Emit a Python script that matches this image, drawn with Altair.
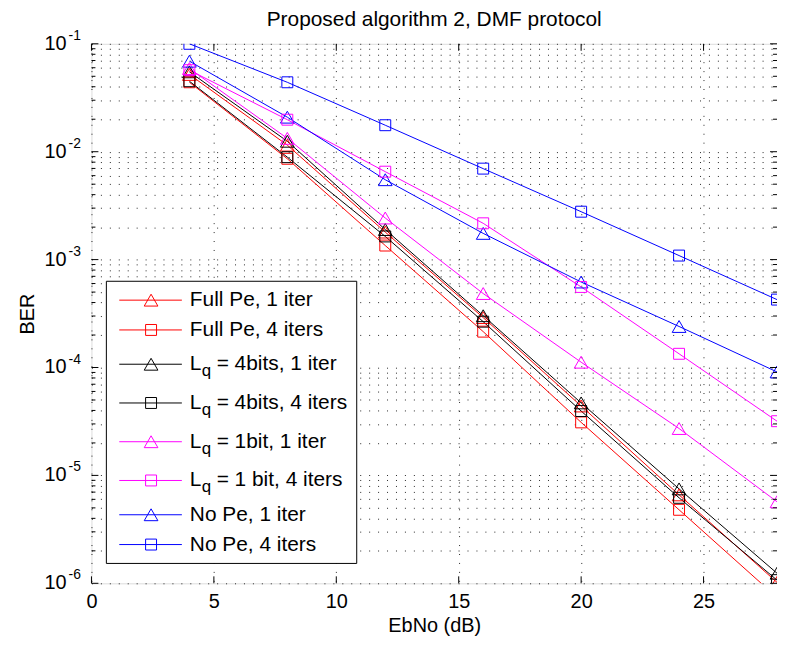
import altair as alt
import pandas as pd

# ---------------- data ----------------
ebno = [4, 8, 12, 16, 20, 24, 28]

series_keys = ["s0", "s1", "s2", "s3", "s4", "s5", "s6", "s7"]
series_colors = ["#ff0000", "#ff0000", "#000000", "#000000",
                 "#ff00ff", "#ff00ff", "#0000ff", "#0000ff"]
series_markers = ["triangle-up", "square", "triangle-up", "square",
                  "triangle-up", "square", "triangle-up", "square"]

ber_full_pe_1 = [0.052, 0.0115, 0.0018, 0.00029, 4.4e-5, 6.6e-6, 1.02e-6]
ber_full_pe_4 = [0.044, 0.0086, 0.00135, 0.000215, 3.1e-5, 4.8e-6, 7.4e-7]
ber_lq4_1 = [0.055, 0.0125, 0.0019, 0.000302, 4.7e-5, 7.5e-6, 1.24e-6]
ber_lq4_4 = [0.045, 0.0089, 0.00164, 0.000266, 3.95e-5, 6.2e-6, 1.07e-6]
ber_lq1_1 = [0.059, 0.0133, 0.00243, 0.000485, 0.000112, 2.72e-5, 5.7e-6]
ber_lq1_4 = [0.057, 0.0198, 0.00653, 0.00217, 0.000558, 0.000134, 3.18e-5]
ber_nope_1 = [0.069, 0.0209, 0.0055, 0.00175, 0.00062, 0.00024, 9.1e-5]
ber_nope_4 = [0.1, 0.044, 0.0176, 0.00697, 0.00278, 0.00109, 0.000426]

all_series = [ber_full_pe_1, ber_full_pe_4, ber_lq4_1, ber_lq4_4,
              ber_lq1_1, ber_lq1_4, ber_nope_1, ber_nope_4]

legend_main = ["Full Pe, 1 iter", "Full Pe, 4 iters", "L", "L", "L", "L",
               "No Pe, 1 iter", "No Pe, 4 iters"]
legend_sub = ["", "", "q", "q", "q", "q", "", ""]
legend_rest = ["", "", "= 4bits, 1 iter", "= 4bits, 4 iters",
               "= 1bit, 1 iter", "= 1 bit, 4 iters", "", ""]

x_tick_values = [0, 5, 10, 15, 20, 25]
y_decades = [1e-1, 1e-2, 1e-3, 1e-4, 1e-5, 1e-6]
y_label_exponents = ["-1", "-2", "-3", "-4", "-5", "-6"]
y_minor = [k * 10.0 ** e for e in range(-6, -1) for k in range(2, 10)]
y_grid = sorted(y_minor + y_decades)

# ---------------- tables ----------------
rows = []
for key, mk, vals in zip(series_keys, series_markers, all_series):
    for x, v in zip(ebno, vals):
        rows.append({"key": key, "marker": mk, "EbNo": x, "BER": v})
df = pd.DataFrame(rows)

# legend row layout: rows holding a subscript get a little more room
row_pos = [0.0]
for i in range(1, len(legend_sub)):
    gap = 30 + (4.5 if legend_sub[i - 1] else 0) + (4.5 if legend_sub[i] else 0)
    row_pos.append(row_pos[-1] + gap)

leg = pd.DataFrame({"pos": row_pos, "key": series_keys, "marker": series_markers,
                    "main": legend_main, "sub": legend_sub, "rest": legend_rest})
xt = pd.DataFrame({"EbNo": x_tick_values})
ymaj = pd.DataFrame({"BER": y_decades, "base": ["10"] * 6, "exp": y_label_exponents})
ymin = pd.DataFrame({"BER": y_minor})

W, H = 690, 543
FONT = "Liberation Sans"

color_scale = alt.Scale(domain=series_keys, range=series_colors)
xs = alt.Scale(domain=[0, 28], nice=False, zero=False)
ys = alt.Scale(type="log", domain=[1e-6, 1e-1], nice=False)

x_axis = alt.Axis(values=x_tick_values, title="EbNo (dB)", grid=True, gridColor="#000000",
                  gridDash=[1, 8], gridOpacity=0.85, ticks=False, domain=False,
                  labelFontSize=20, labelPadding=8, labelColor="#000", labelFont=FONT,
                  titleFontSize=20, titleFontWeight="normal", titlePadding=5,
                  titleColor="#000", titleFont=FONT, labelFlush=False)
y_axis = alt.Axis(values=y_grid, labels=False, ticks=False, domain=False, grid=True,
                  gridColor="#000000", gridDash=[1, 8], gridOpacity=0.85,
                  title="BER", titleFontSize=20, titleFontWeight="normal", titleColor="#000",
                  titleFont=FONT, titlePadding=54)

lines = alt.Chart(df).mark_line(strokeWidth=1, clip=True).encode(
    x=alt.X("EbNo:Q", scale=xs, axis=x_axis),
    y=alt.Y("BER:Q", scale=ys, axis=y_axis),
    color=alt.Color("key:N", scale=color_scale, legend=None),
    detail="key:N",
)
tri_pts = alt.Chart(df).transform_filter(alt.datum.marker == "triangle-up").mark_point(
    shape="triangle-up", filled=False, size=190, strokeWidth=1, opacity=1, clip=True).encode(
    x="EbNo:Q", y="BER:Q", color=alt.Color("key:N", scale=color_scale, legend=None))
sq_pts = alt.Chart(df).transform_filter(alt.datum.marker == "square").mark_point(
    shape="square", filled=False, size=121, strokeWidth=1, opacity=1, clip=True).encode(
    x="EbNo:Q", y="BER:Q", color=alt.Color("key:N", scale=color_scale, legend=None))

tick_b = alt.Chart(xt).mark_rule(color="black").encode(x="EbNo:Q", y=alt.value(H), y2=alt.value(H - 7))
tick_t = alt.Chart(xt).mark_rule(color="black").encode(x="EbNo:Q", y=alt.value(0), y2=alt.value(7))
ytick_l = alt.Chart(ymaj).mark_rule(color="black").encode(y="BER:Q", x=alt.value(0), x2=alt.value(7))
ytick_r = alt.Chart(ymaj).mark_rule(color="black").encode(y="BER:Q", x=alt.value(W), x2=alt.value(W - 7))
ymin_l = alt.Chart(ymin).mark_rule(color="black").encode(y="BER:Q", x=alt.value(0), x2=alt.value(4))
ymin_r = alt.Chart(ymin).mark_rule(color="black").encode(y="BER:Q", x=alt.value(W), x2=alt.value(W - 4))

ylab_base = alt.Chart(ymaj).mark_text(align="right", baseline="middle", fontSize=20, font=FONT,
                                      color="black").encode(y="BER:Q", x=alt.value(-25), text="base:N")
ylab_exp = alt.Chart(ymaj).mark_text(align="left", baseline="middle", fontSize=14, font=FONT,
                                     color="black", dy=-8).encode(y="BER:Q", x=alt.value(-23), text="exp:N")

main = alt.layer(lines, tri_pts, sq_pts, tick_b, tick_t, ytick_l, ytick_r, ymin_l, ymin_r,
                 ylab_base, ylab_exp)

# ---------------- legend ----------------
span = row_pos[-1]
ly = alt.Y("pos:Q", scale=alt.Scale(domain=[0, span], range=[258, 258 + span]), axis=None)
box = alt.Chart(pd.DataFrame({"a": [0]})).mark_rect(fill="white", stroke="black", strokeWidth=1).encode(
    x=alt.value(15), x2=alt.value(267), y=alt.value(239), y2=alt.value(523))
leg_lines = alt.Chart(leg).mark_rule(strokeWidth=1).encode(
    x=alt.value(28), x2=alt.value(91), y=ly,
    color=alt.Color("key:N", scale=color_scale, legend=None))
leg_tri = alt.Chart(leg).transform_filter(alt.datum.marker == "triangle-up").mark_point(
    shape="triangle-up", filled=False, size=190, strokeWidth=1, opacity=1).encode(
    x=alt.value(60), y=ly, color=alt.Color("key:N", scale=color_scale, legend=None))
leg_sq = alt.Chart(leg).transform_filter(alt.datum.marker == "square").mark_point(
    shape="square", filled=False, size=121, strokeWidth=1, opacity=1).encode(
    x=alt.value(60), y=ly, color=alt.Color("key:N", scale=color_scale, legend=None))
leg_txt = alt.Chart(leg).mark_text(align="left", baseline="middle", fontSize=21, font=FONT,
                                   color="black").encode(x=alt.value(99), y=ly, text="main:N")
leg_sub = alt.Chart(leg).mark_text(align="left", baseline="middle", fontSize=17, font=FONT,
                                   color="black", dy=7).encode(x=alt.value(111), y=ly, text="sub:N")
leg_rest = alt.Chart(leg).mark_text(align="left", baseline="middle", fontSize=21, font=FONT,
                                    color="black").encode(x=alt.value(126), y=ly, text="rest:N")
legend = alt.layer(box, leg_lines, leg_tri, leg_sq, leg_txt, leg_sub, leg_rest)

chart = alt.layer(main, legend).resolve_scale(y="independent").properties(
    width=W, height=H,
    title=alt.Title("Proposed algorithm 2, DMF protocol", fontSize=21, fontWeight="normal",
                    font=FONT, color="black", anchor="middle", frame="group", offset=-1),
    padding={"left": 84, "top": 34, "right": 0, "bottom": 52},
    autosize=alt.AutoSizeParams(type="none"),
).configure_view(stroke="black", strokeWidth=1).configure(background="white")

chart.save("out.html", embed_options={"renderer": "svg", "actions": False})
